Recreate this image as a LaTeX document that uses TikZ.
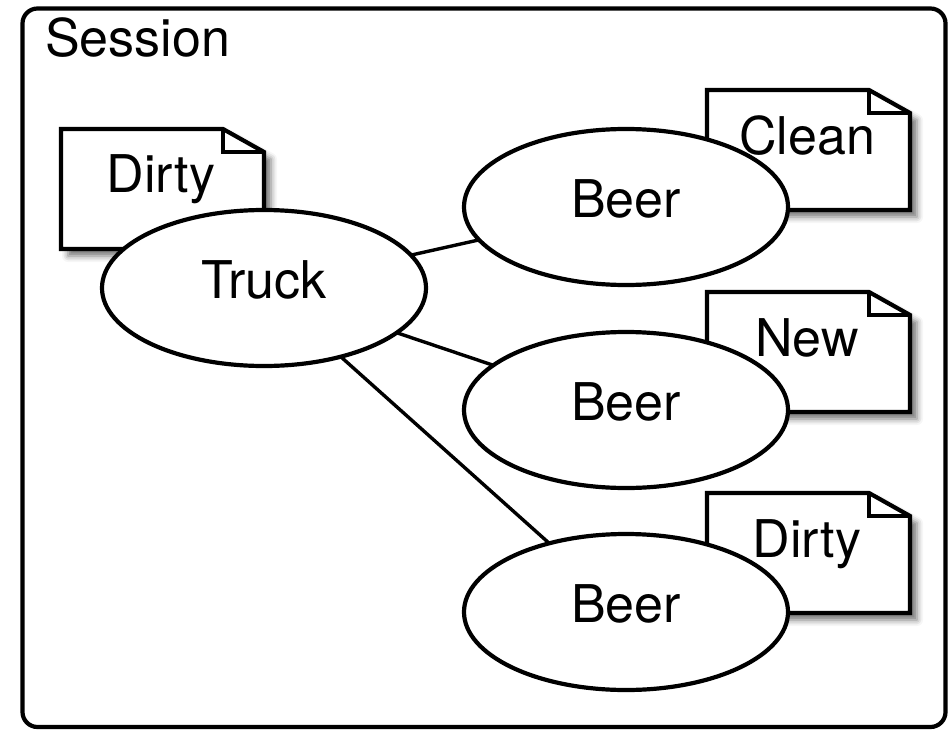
\documentclass[tikz,border=0pt]{standalone}
\usepackage{fontspec}
\setmainfont{TeX Gyre Heros}
\usetikzlibrary{shapes.geometric,shadows.blur}

\tikzset{
  frame/.style={draw, line width=4.2pt, rounded corners=15pt},
  entity/.style={ellipse, draw, fill=white, line width=4.2pt, inner sep=0pt,
    minimum width=324pt, minimum height=156pt,
    text height=37pt, text depth=17pt, font=\bigfont},
  link/.style={draw, line width=3.4pt},
  notepath/.style={draw, fill=white, line width=4.2pt,
    blur shadow={shadow xshift=7pt, shadow yshift=-7pt,
      shadow blur radius=6pt, shadow opacity=55}},
  notefold/.style={draw, line width=4.2pt},
  notetext/.style={anchor=base, inner sep=0pt, font=\bigfont},
  caption/.style={anchor=base west, inner sep=0pt, font=\bigfont}
}
\newcommand\bigfont{\fontsize{52}{60}\selectfont}

% Dog-eared note: #1 name, (#2,#3) top-left corner, #4 text
\newcommand\dognote[4]{%
  \path[notepath] (#2,#3) -- ++(162,0) -- ++(41,23) -- ++(0,97) -- ++(-203,0) -- cycle;
  \path[notefold] (#2+162,#3) -- ++(0,23) -- ++(41,0);
  \node[notetext] (#1) at (#2+100,#3+64) {#4};
}

\begin{document}
\begin{tikzpicture}[x=1pt, y=-1pt]
  \useasboundingbox (0,0) rectangle (949,730);

  % session frame
  \draw[frame] (22.5,8.5) rectangle (945.5,727);
  \node[caption] (session) at (45,57) {Session};

  % state notes
  \dognote{n1}{61}{129}{Dirty}
  \dognote{n2}{707}{90}{Clean}
  \dognote{n3}{707}{292}{New}
  \dognote{n4}{707}{493}{Dirty}

  % entity positions
  \coordinate (pt) at (264,288);
  \coordinate (pb1) at (626,207);
  \coordinate (pb2) at (626,410);
  \coordinate (pb3) at (626,612);

  % associations (drawn under the ellipses)
  \path[link] (pt) -- (pb1);
  \path[link] (pt) -- (pb2);
  \path[link] (pt) -- (pb3);

  % entities
  \node[entity] (truck) at (pt) {Truck};
  \node[entity] (beer1) at (pb1) {Beer};
  \node[entity] (beer2) at (pb2) {Beer};
  \node[entity] (beer3) at (pb3) {Beer};
\end{tikzpicture}
\end{document}
